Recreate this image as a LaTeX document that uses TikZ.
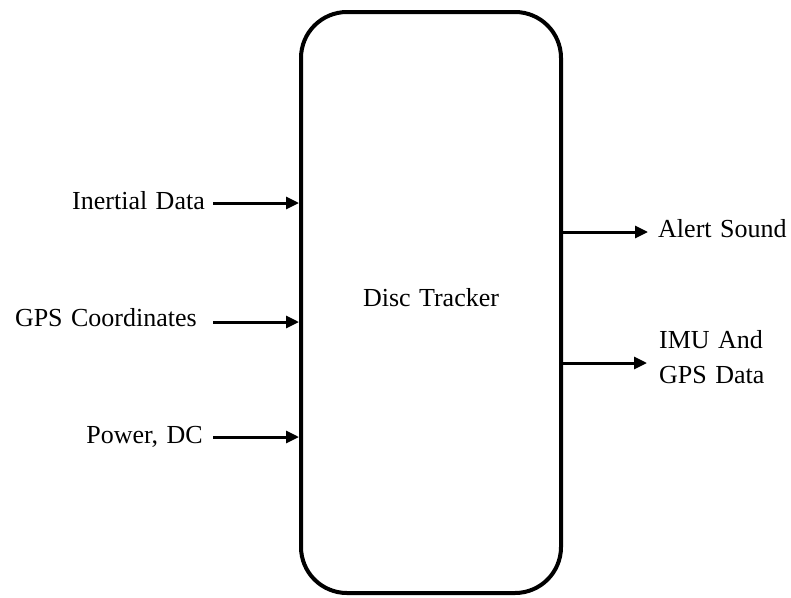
\documentclass[tikz,border=0pt]{standalone}
\usepackage{fontspec}
\setmainfont{Liberation Serif}[WordSpace=1.3]
\usetikzlibrary{arrows.meta}
\begin{document}
\begin{tikzpicture}[x=1pt,y=-1pt,
  lbl/.style={font=\fontsize{26}{35}\selectfont, inner sep=0pt},
  arr/.style={line width=3pt, -{Triangle[length=13pt,width=12pt]}},
  block/.style={draw, line width=4pt, rounded corners=46pt,
    minimum width=260pt, minimum height=581pt, inner sep=0pt}]
  \useasboundingbox (0,0) rectangle (791,597);

  % main block
  \node[block] (box) at (431,302.5) {};
  \node[lbl] (title) at (431,298) {Disc Tracker};

  % inputs
  \node[lbl, anchor=base east] (in1) at (205,209) {Inertial Data};
  \node[lbl, anchor=base east] (in2) at (197,326) {GPS Coordinates};
  \node[lbl, anchor=base east] (in3) at (203,443) {Power, DC};
  \coordinate (i1) at (213,203);
  \coordinate (i2) at (213,322);
  \coordinate (i3) at (213,437);
  \draw[arr] (i1) -- (box.west |- i1);
  \draw[arr] (i2) -- (box.west |- i2);
  \draw[arr] (i3) -- (box.west |- i3);

  % outputs
  \node[lbl, anchor=base west] (out1) at (658,237) {Alert Sound};
  \node[lbl, anchor=base west, align=left] (out2) at (659,383) {IMU And\\GPS Data};
  \coordinate (o1) at (648,232);
  \coordinate (o2) at (647,363);
  \draw[arr] (box.east |- o1) -- (o1);
  \draw[arr] (box.east |- o2) -- (o2);
\end{tikzpicture}
\end{document}
